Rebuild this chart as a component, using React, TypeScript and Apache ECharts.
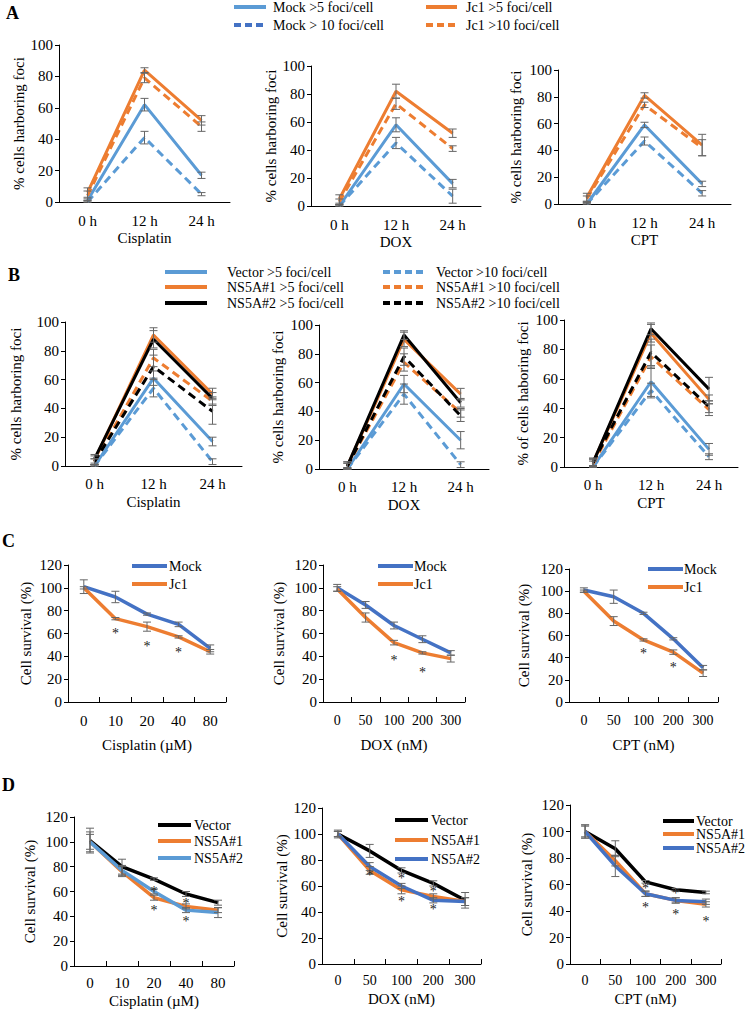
import React, { useEffect, useRef } from "react";
import * as echarts from "echarts";

const FONT = "'Liberation Serif', 'Times New Roman', serif";
const LBLUE = "#5B9BD5";
const ORANGE = "#ED7D31";
const DBLUE = "#4472C4";
const BLACK = "#000000";
const STAR = "#222222";

// categories
const timeCats = ["0 h", "12 h", "24 h"];
const cisCats = ["0", "10", "20", "40", "80"];
const nmCats = ["0", "50", "100", "200", "300"];

// y-axis scales
const fociMax = 100;
const survMax = 120;
const yStep = 20;

// ---------- Panel A ----------
const aCisMock5 = [1, 62, 17]; const aCisMock5Err = [1, 4, 2];
const aCisMock10 = [0, 41, 5]; const aCisMock10Err = [1, 4, 1];
const aCisJc5 = [6, 84, 52]; const aCisJc5Err = [3, 1.5, 3];
const aCisJc10 = [4, 79, 48]; const aCisJc10Err = [3, 3, 3];

const aDoxMock5 = [0, 58, 16]; const aDoxMock5Err = [1, 5, 3];
const aDoxMock10 = [0, 45, 7]; const aDoxMock10Err = [1, 4, 5];
const aDoxJc5 = [5, 82, 52]; const aDoxJc5Err = [3, 5, 3];
const aDoxJc10 = [3, 73, 41]; const aDoxJc10Err = [2, 4, 2];

const aCptMock5 = [0, 59, 15]; const aCptMock5Err = [1, 2, 2];
const aCptMock10 = [0, 47, 8]; const aCptMock10Err = [1, 3, 2];
const aCptJc5 = [5, 81, 44]; const aCptJc5Err = [3, 2, 8];
const aCptJc10 = [4, 74, 42]; const aCptJc10Err = [2, 2, 6];

// ---------- Panel B ----------
const bCisVec5 = [0, 61, 17]; const bCisVec5Err = [1, 5, 3];
const bCisVec10 = [0, 54, 3]; const bCisVec10Err = [1, 6, 2];
const bCisN1_5 = [4, 91, 50]; const bCisN1_5Err = [3, 5, 4];
const bCisN2_5 = [5, 88, 47]; const bCisN2_5Err = [3, 6, 4];
const bCisN1_10 = [3, 75, 45]; const bCisN1_10Err = [2, 6, 3];
const bCisN2_10 = [3, 69, 38]; const bCisN2_10Err = [2, 8, 9];

const bDoxVec5 = [0, 59, 20]; const bDoxVec5Err = [1, 6, 6];
const bDoxVec10 = [0, 52, 3]; const bDoxVec10Err = [1, 7, 2];
const bDoxN1_5 = [2, 90, 52]; const bDoxN1_5Err = [3, 5, 4];
const bDoxN2_5 = [2, 93, 46]; const bDoxN2_5Err = [3, 3, 3];
const bDoxN1_10 = [2, 74, 39]; const bDoxN1_10Err = [2, 6, 3];
const bDoxN2_10 = [2, 78, 37]; const bDoxN2_10Err = [2, 6, 4];

const bCptVec5 = [0, 58, 12]; const bCptVec5Err = [1, 10, 4];
const bCptVec10 = [0, 52, 7]; const bCptVec10Err = [1, 5, 2];
const bCptN1_5 = [3, 91, 46]; const bCptN1_5Err = [3, 6, 3];
const bCptN2_5 = [3, 94, 53]; const bCptN2_5Err = [3, 4, 8];
const bCptN1_10 = [2, 75, 39]; const bCptN1_10Err = [2, 8, 4];
const bCptN2_10 = [3, 78, 41]; const bCptN2_10Err = [2, 9, 4];

// ---------- Panel C ----------
const cCisMock = [101, 92, 77, 68, 47]; const cCisMockErr = [6, 5, 1, 2, 3];
const cCisJc1 = [100, 73, 66, 57, 44]; const cCisJc1Err = [1, 1, 4, 1, 2];
const cCisStars = [[1, 60], [2, 49], [3, 43]];

const cDoxMock = [100, 85, 67, 55, 43]; const cDoxMockErr = [3, 3, 3, 3, 2];
const cDoxJc1 = [99, 74, 52, 43, 38]; const cDoxJc1Err = [2, 4, 2, 1, 3];
const cDoxStars = [[2, 36], [3, 26]];

const cCptMock = [101, 95, 80, 57, 31]; const cCptMockErr = [2, 6, 1, 1, 2];
const cCptJc1 = [100, 73, 56, 45, 26]; const cCptJc1Err = [1, 4, 1, 2, 3];
const cCptStars = [[2, 44], [3, 31]];

// ---------- Panel D ----------
const dCisVec = [101, 80, 70, 58, 51]; const dCisVecErr = [10, 6, 1, 2, 2];
const dCisN1 = [100, 76, 55, 48, 45]; const dCisN1Err = [6, 4, 2, 2, 2];
const dCisN2 = [100, 77, 60, 45, 43]; const dCisN2Err = [8, 4, 2, 2, 4];
const dCisStars = [[2, 60], [2, 45], [3, 50], [3, 36]];

const dDoxVec = [100, 87, 72, 62, 49]; const dDoxVecErr = [3, 5, 2, 2, 6];
const dDoxN1 = [100, 72, 57, 52, 48]; const dDoxN1Err = [2, 3, 3, 2, 3];
const dDoxN2 = [100, 75, 60, 49, 48]; const dDoxN2Err = [2, 3, 2, 2, 3];
const dDoxStars = [[1, 68], [2, 66], [2, 48], [3, 56], [3, 42]];

const dCptVec = [100, 87, 62, 56, 54]; const dCptVecErr = [5, 6, 1, 1, 1];
const dCptN1 = [100, 78, 53, 48, 45]; const dCptN1Err = [4, 4, 2, 2, 2];
const dCptN2 = [100, 74, 53, 48, 47]; const dCptN2Err = [5, 8, 2, 2, 2];
const dCptStars = [[2, 57], [2, 43], [3, 53], [3, 37], [4, 32]];

type LineDef = { data: number[]; err: number[]; color: string; dashed?: boolean; width?: number };
type ChartDef = {
  box: [number, number, number, number];
  cats: string[];
  yMax: number;
  yName: string;
  yNameGap: number;
  xName: string;
  xNameGap: number;
  labelMargin: number;
  xTicks: boolean;
  lines: LineDef[];
  stars: number[][];
};

const L = (data: number[], err: number[], color: string, dashed = false, width = 3): LineDef => ({ data, err, color, dashed, width });

const charts: ChartDef[] = [
  // A
  { box: [59, 45, 171, 157], cats: timeCats, yMax: fociMax, yName: "% cells harboring foci", yNameGap: 28, xName: "Cisplatin", xNameGap: 28, labelMargin: 11, xTicks: false, stars: [],
    lines: [L(aCisMock5, aCisMock5Err, LBLUE), L(aCisMock10, aCisMock10Err, LBLUE, true), L(aCisJc5, aCisJc5Err, ORANGE), L(aCisJc10, aCisJc10Err, ORANGE, true)] },
  { box: [311, 66, 170, 140], cats: timeCats, yMax: fociMax, yName: "% cells harboring foci", yNameGap: 33, xName: "DOX", xNameGap: 28, labelMargin: 11, xTicks: false, stars: [],
    lines: [L(aDoxMock5, aDoxMock5Err, LBLUE), L(aDoxMock10, aDoxMock10Err, LBLUE, true), L(aDoxJc5, aDoxJc5Err, ORANGE), L(aDoxJc10, aDoxJc10Err, ORANGE, true)] },
  { box: [558, 70, 173, 134], cats: timeCats, yMax: fociMax, yName: "% cells harboring foci", yNameGap: 35, xName: "CPT", xNameGap: 28, labelMargin: 11, xTicks: false, stars: [],
    lines: [L(aCptMock5, aCptMock5Err, LBLUE), L(aCptMock10, aCptMock10Err, LBLUE, true), L(aCptJc5, aCptJc5Err, ORANGE), L(aCptJc10, aCptJc10Err, ORANGE, true)] },
  // B
  { box: [65, 322, 177, 144], cats: timeCats, yMax: fociMax, yName: "% cells harboring foci", yNameGap: 42, xName: "Cisplatin", xNameGap: 28, labelMargin: 10, xTicks: false, stars: [],
    lines: [L(bCisVec5, bCisVec5Err, LBLUE), L(bCisVec10, bCisVec10Err, LBLUE, true), L(bCisN1_5, bCisN1_5Err, ORANGE), L(bCisN1_10, bCisN1_10Err, ORANGE, true), L(bCisN2_5, bCisN2_5Err, BLACK), L(bCisN2_10, bCisN2_10Err, BLACK, true)] },
  { box: [319, 325, 170, 144], cats: timeCats, yMax: fociMax, yName: "% cells harboring foci", yNameGap: 34, xName: "DOX", xNameGap: 28, labelMargin: 10, xTicks: false, stars: [],
    lines: [L(bDoxVec5, bDoxVec5Err, LBLUE), L(bDoxVec10, bDoxVec10Err, LBLUE, true), L(bDoxN1_5, bDoxN1_5Err, ORANGE), L(bDoxN1_10, bDoxN1_10Err, ORANGE, true), L(bDoxN2_5, bDoxN2_5Err, BLACK), L(bDoxN2_10, bDoxN2_10Err, BLACK, true)] },
  { box: [564, 320, 174, 147], cats: timeCats, yMax: fociMax, yName: "% of cells haboring foci", yNameGap: 34, xName: "CPT", xNameGap: 28, labelMargin: 10, xTicks: false, stars: [],
    lines: [L(bCptVec5, bCptVec5Err, LBLUE), L(bCptVec10, bCptVec10Err, LBLUE, true), L(bCptN1_5, bCptN1_5Err, ORANGE), L(bCptN1_10, bCptN1_10Err, ORANGE, true), L(bCptN2_5, bCptN2_5Err, BLACK), L(bCptN2_10, bCptN2_10Err, BLACK, true)] },
  // C
  { box: [68, 565, 158, 137], cats: cisCats, yMax: survMax, yName: "Cell survival (%)", yNameGap: 35, xName: "Cisplatin (µM)", xNameGap: 35, labelMargin: 11, xTicks: true, stars: cCisStars,
    lines: [L(cCisMock, cCisMockErr, DBLUE, false, 3.5), L(cCisJc1, cCisJc1Err, ORANGE, false, 3.5)] },
  { box: [323, 565, 142, 137], cats: nmCats, yMax: survMax, yName: "Cell survival (%)", yNameGap: 37, xName: "DOX (nM)", xNameGap: 35, labelMargin: 11, xTicks: true, stars: cDoxStars,
    lines: [L(cDoxMock, cDoxMockErr, DBLUE, false, 3.5), L(cDoxJc1, cDoxJc1Err, ORANGE, false, 3.5)] },
  { box: [569, 569, 149, 133], cats: nmCats, yMax: survMax, yName: "Cell survival (%)", yNameGap: 38, xName: "CPT (nM)", xNameGap: 35, labelMargin: 11, xTicks: true, stars: cCptStars,
    lines: [L(cCptMock, cCptMockErr, DBLUE, false, 3.5), L(cCptJc1, cCptJc1Err, ORANGE, false, 3.5)] },
  // D
  { box: [74, 817, 160, 149], cats: cisCats, yMax: survMax, yName: "Cell survival (%)", yNameGap: 37, xName: "Cisplatin (µM)", xNameGap: 27, labelMargin: 9, xTicks: true, stars: dCisStars,
    lines: [L(dCisVec, dCisVecErr, BLACK, false, 3.5), L(dCisN1, dCisN1Err, ORANGE, false, 3.5), L(dCisN2, dCisN2Err, LBLUE, false, 3.5)] },
  { box: [322, 808, 159, 156], cats: nmCats, yMax: survMax, yName: "Cell survival (%)", yNameGap: 32, xName: "DOX (nM)", xNameGap: 27, labelMargin: 9, xTicks: true, stars: dDoxStars,
    lines: [L(dDoxVec, dDoxVecErr, BLACK, false, 3.5), L(dDoxN1, dDoxN1Err, ORANGE, false, 3.5), L(dDoxN2, dDoxN2Err, DBLUE, false, 3.5)] },
  { box: [570, 805, 151, 159], cats: nmCats, yMax: survMax, yName: "Cell survival (%)", yNameGap: 36, xName: "CPT (nM)", xNameGap: 27, labelMargin: 9, xTicks: true, stars: dCptStars,
    lines: [L(dCptVec, dCptVecErr, BLACK, false, 3.5), L(dCptN1, dCptN1Err, ORANGE, false, 3.5), L(dCptN2, dCptN2Err, DBLUE, false, 3.5)] },
];

function legendItem(x1: number, x2: number, y: number, color: string, dashed: boolean, tx: number, text: string, lw = 4) {
  return [
    { type: "line", shape: { x1, y1: y, x2, y2: y }, style: { stroke: color, lineWidth: lw, lineDash: dashed ? [7, 4] : null } },
    { type: "text", x: tx, y, style: { text, font: `14px ${FONT}`, fill: "#000", align: "left", verticalAlign: "middle" } },
  ];
}

function panelLabel(x: number, y: number, t: string) {
  return { type: "text", x, y, style: { text: t, font: `bold 18px ${FONT}`, fill: "#000", align: "left", verticalAlign: "middle" } };
}

function buildOption() {
  const grid: any[] = [];
  const xAxis: any[] = [];
  const yAxis: any[] = [];
  const series: any[] = [];
  charts.forEach((c, gi) => {
    const [left, top, width, height] = c.box;
    grid.push({ left, top, width, height, containLabel: false });
    xAxis.push({
      type: "category", gridIndex: gi, data: c.cats, boundaryGap: true,
      axisLine: { lineStyle: { color: "#000", width: 1 } },
      axisTick: { show: c.xTicks, inside: true, length: 5, interval: 0, lineStyle: { color: "#000" } },
      axisLabel: { color: "#000", fontFamily: FONT, fontSize: c.cats === nmCats ? 14 : 15, margin: c.labelMargin, interval: 0, hideOverlap: false },
      name: c.xName, nameLocation: "middle", nameGap: c.xNameGap,
      nameTextStyle: { color: "#000", fontFamily: FONT, fontSize: 15 },
      splitLine: { show: false },
    });
    yAxis.push({
      type: "value", gridIndex: gi, min: 0, max: c.yMax, interval: yStep,
      axisLine: { show: true, lineStyle: { color: "#000", width: 1 } },
      axisTick: { show: true, length: 4, lineStyle: { color: "#000" } },
      axisLabel: { color: "#000", fontFamily: FONT, fontSize: 15, margin: 6 },
      name: c.yName, nameLocation: "middle", nameGap: c.yNameGap,
      nameTextStyle: { color: "#000", fontFamily: FONT, fontSize: 15 },
      splitLine: { show: false },
    });
    c.lines.forEach((l) => {
      series.push({
        type: "line", xAxisIndex: gi, yAxisIndex: gi, data: l.data, symbol: "none", z: 3,
        lineStyle: { color: l.color, width: l.width, type: l.dashed ? [8, 5] : "solid", cap: "butt" },
      });
    });
    c.lines.forEach((l) => {
      series.push({
        type: "custom", xAxisIndex: gi, yAxisIndex: gi, z: 6, silent: true,
        itemStyle: { color: "#666666" },
        data: l.data.map((v, i) => [i, v, l.err[i]]),
        encode: { x: 0, y: 1 },
        renderItem: (params: any, api: any) => {
          const i = api.value(0), v = api.value(1), e = api.value(2);
          const p1 = api.coord([i, v + e]);
          const p2 = api.coord([i, Math.max(0, v - e)]);
          const x = p1[0];
          const w = 4;
          const st = { stroke: "#666666", lineWidth: 1 };
          return {
            type: "group",
            children: [
              { type: "line", shape: { x1: x, y1: p1[1], x2: x, y2: p2[1] }, style: st },
              { type: "line", shape: { x1: x - w, y1: p1[1], x2: x + w, y2: p1[1] }, style: st },
              { type: "line", shape: { x1: x - w, y1: p2[1], x2: x + w, y2: p2[1] }, style: st },
            ],
          };
        },
      });
    });
    if (c.stars.length) {
      series.push({
        type: "custom", xAxisIndex: gi, yAxisIndex: gi, z: 7, silent: true,
        itemStyle: { color: STAR },
        data: c.stars, encode: { x: 0, y: 1 },
        renderItem: (params: any, api: any) => {
          const p = api.coord([api.value(0), api.value(1)]);
          return {
            type: "text", x: p[0], y: p[1],
            style: { text: "*", font: `14px ${FONT}`, fill: STAR, align: "center", verticalAlign: "middle" },
          };
        },
      });
    }
  });

  const graphic: any[] = [
    panelLabel(6, 13, "A"),
    panelLabel(8, 275, "B"),
    panelLabel(2, 541, "C"),
    panelLabel(2, 785, "D"),
    ...legendItem(234, 266, 7, LBLUE, false, 273, "Mock >5 foci/cell"),
    ...legendItem(234, 266, 25, DBLUE, true, 273, "Mock > 10 foci/cell"),
    ...legendItem(426, 457, 7, ORANGE, false, 466, "Jc1 >5 foci/cell"),
    ...legendItem(426, 457, 25, ORANGE, true, 466, "Jc1 >10 foci/cell"),
    ...legendItem(165, 207, 272, LBLUE, false, 227, "Vector >5 foci/cell"),
    ...legendItem(165, 207, 287, ORANGE, false, 227, "NS5A#1 >5 foci/cell"),
    ...legendItem(165, 207, 303, BLACK, false, 227, "NS5A#2 >5 foci/cell"),
    ...legendItem(383, 423, 272, LBLUE, true, 436, "Vector >10 foci/cell"),
    ...legendItem(383, 423, 287, ORANGE, true, 436, "NS5A#1 >10 foci/cell"),
    ...legendItem(383, 423, 303, BLACK, true, 436, "NS5A#2 >10 foci/cell"),
    // C legends
    ...legendItem(132, 167, 566, DBLUE, false, 169, "Mock"),
    ...legendItem(132, 167, 584, ORANGE, false, 169, "Jc1"),
    ...legendItem(378, 413, 566, DBLUE, false, 414, "Mock"),
    ...legendItem(378, 413, 584, ORANGE, false, 414, "Jc1"),
    ...legendItem(648, 683, 569, DBLUE, false, 684, "Mock"),
    ...legendItem(648, 683, 587, ORANGE, false, 684, "Jc1"),
    // D legends
    ...legendItem(158, 191, 825, BLACK, false, 194, "Vector"),
    ...legendItem(158, 191, 841, ORANGE, false, 194, "NS5A#1"),
    ...legendItem(158, 191, 858, LBLUE, false, 194, "NS5A#2"),
    ...legendItem(395, 428, 820, BLACK, false, 431, "Vector"),
    ...legendItem(395, 428, 840, ORANGE, false, 431, "NS5A#1"),
    ...legendItem(395, 428, 859, DBLUE, false, 431, "NS5A#2"),
    ...legendItem(663, 694, 821, BLACK, false, 696, "Vector"),
    ...legendItem(663, 694, 834, ORANGE, false, 696, "NS5A#1"),
    ...legendItem(663, 694, 848, DBLUE, false, 696, "NS5A#2"),
  ];

  return { animation: false, backgroundColor: "#ffffff", grid, xAxis, yAxis, series, graphic };
}

export default function App() {
  const ref = useRef<HTMLDivElement>(null);
  useEffect(() => {
    if (!ref.current) return;
    const chart = echarts.init(ref.current, undefined, { renderer: "svg" });
    chart.setOption(buildOption() as any);
    return () => chart.dispose();
  }, []);
  return <div ref={ref} style={{ position: "absolute", left: 0, top: 0, width: 750, height: 1011, background: "#fff" }} />;
}
